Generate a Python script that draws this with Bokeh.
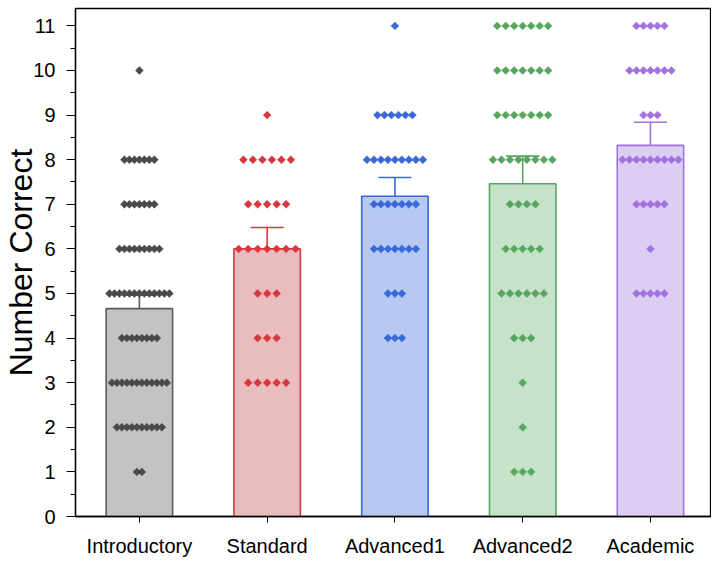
import numpy as np
from bokeh.plotting import figure
from bokeh.models import ColumnDataSource, Range1d, FixedTicker
from bokeh.embed import file_html
from bokeh.resources import INLINE

# ---- data ----
categories = ["Introductory", "Standard", "Advanced1", "Advanced2", "Academic"]
score_levels = [1, 2, 3, 4, 5, 6, 7, 8, 9, 10, 11]
# number of students at each score level (1..11) per category
intro_counts     = [2, 10, 12, 8, 13, 9, 7, 7, 0, 1, 0]
standard_counts  = [0, 0, 5, 3, 3, 7, 5, 6, 1, 0, 0]
advanced1_counts = [0, 0, 0, 3, 3, 7, 7, 9, 6, 0, 1]
advanced2_counts = [3, 1, 1, 3, 6, 5, 4, 8, 7, 7, 7]
academic_counts  = [0, 0, 0, 0, 5, 1, 5, 9, 3, 7, 5]
# bar heights (means) and upper error (SEM)
means = [4.66, 6.00, 7.18, 7.46, 8.32]
sems  = [0.30, 0.48, 0.42, 0.62, 0.52]
y_ticks = [0, 1, 2, 3, 4, 5, 6, 7, 8, 9, 10, 11]

# ---- styles ----
dot_colors  = ["#4a4a4a", "#d9363e", "#3a68d8", "#56a65f", "#a272e0"]
bar_fills   = ["#c3c3c3", "#e9bcbd", "#b6c9f0", "#c6e3c9", "#dccdf3"]
bar_lines   = ["#5a5a5a", "#d9363e", "#3a68d8", "#56a65f", "#a272e0"]
spacing_px  = [5.0, 9.5, 7.0, 8.5, 7.0]
FONT = "Liberation Sans"

all_counts = [intro_counts, standard_counts, advanced1_counts,
              advanced2_counts, academic_counts]
centers = [i + 0.5 for i in range(len(categories))]

X_MAX = 4.97
p = figure(width=711, height=559, output_backend="svg", toolbar_location=None,
           x_range=Range1d(0, X_MAX), y_range=Range1d(0, 11.39),
           min_border_left=74, min_border_right=1, min_border_top=8,
           min_border_bottom=42)
px_per_unit = 636 / X_MAX

# bars
p.vbar(x=centers, top=means, width=0.52, bottom=0,
       fill_color=bar_fills, line_color=bar_lines, line_width=1.6)

# error bars (upper only)
tops = [m + s for m, s in zip(means, sems)]
cap = 0.13
p.segment(x0=centers, y0=means, x1=centers, y1=tops, line_color=bar_lines, line_width=1.6)
p.segment(x0=[c - cap for c in centers], y0=tops, x1=[c + cap for c in centers], y1=tops,
          line_color=bar_lines, line_width=1.6)

# swarm dots
for ci, counts in enumerate(all_counts):
    xs, ys = [], []
    s = spacing_px[ci] / px_per_unit
    for lvl, n in zip(score_levels, counts):
        if n == 0:
            continue
        offs = (np.arange(n) - (n - 1) / 2.0) * s
        xs.extend(list(centers[ci] + offs))
        ys.extend([lvl] * n)
    src = ColumnDataSource(dict(x=xs, y=ys))
    p.scatter("x", "y", source=src, marker="square", angle=np.pi / 4, size=5.6,
              fill_color=dot_colors[ci], line_color=dot_colors[ci], line_width=0.5)

# axes
p.xgrid.visible = False
p.ygrid.visible = False
p.outline_line_color = "black"
p.outline_line_width = 1.3

p.xaxis.ticker = FixedTicker(ticks=centers)
p.xaxis.major_label_overrides = {c: name for c, name in zip(centers, categories)}
p.xaxis.major_tick_out = 6
p.xaxis.major_tick_in = 0
p.xaxis.minor_tick_line_color = None
p.xaxis.major_label_text_font = FONT
p.xaxis.major_label_text_font_size = "20px"
p.xaxis.major_label_text_color = "black"
p.xaxis.axis_line_width = 1.3
p.xaxis.major_label_standoff = 12

p.yaxis.ticker = FixedTicker(ticks=y_ticks, minor_ticks=[t + 0.5 for t in y_ticks])
p.yaxis.major_tick_out = 9
p.yaxis.major_tick_in = 0
p.yaxis.minor_tick_out = 5
p.yaxis.minor_tick_in = 0
p.yaxis.major_label_text_font = FONT
p.yaxis.major_label_text_font_size = "20px"
p.yaxis.major_label_text_color = "black"
p.yaxis.axis_line_width = 1.3
p.yaxis.major_label_standoff = 11
p.yaxis.axis_label = "Number Correct"
p.yaxis.axis_label_text_font = FONT
p.yaxis.axis_label_text_font_size = "32px"
p.yaxis.axis_label_text_font_style = "normal"
p.yaxis.axis_label_text_color = "black"
p.yaxis.axis_label_standoff = -9

open("out.html", "w").write(file_html(p, INLINE))
